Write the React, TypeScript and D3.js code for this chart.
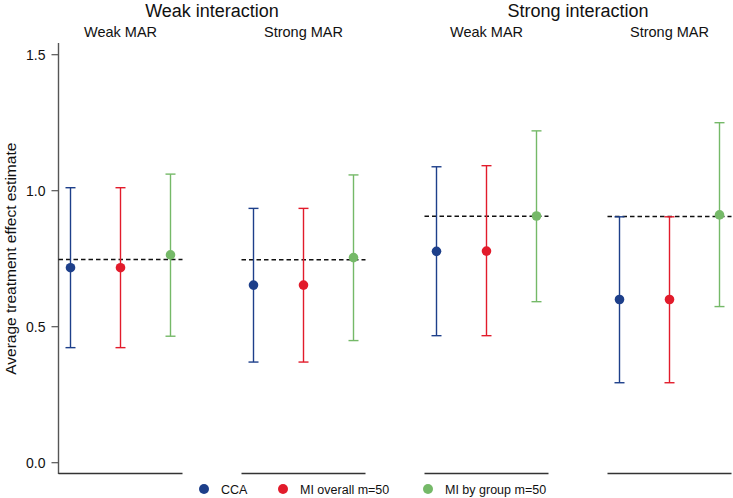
import React from 'react';
import * as d3 from 'd3';

// Data
const interactions = ['Weak interaction', 'Strong interaction'];
const marLabels = ['Weak MAR', 'Strong MAR'];
const methods = ['CCA', 'MI overall m=50', 'MI by group m=50'];
const methodColors = ['#1d3f8a', '#e21b2b', '#75b968'];

// panel order: WI/WMAR, WI/SMAR, SI/WMAR, SI/SMAR
const trueValues = [0.747, 0.746, 0.906, 0.905];
const estimates = [
  [0.717, 0.717, 0.764],
  [0.653, 0.653, 0.754],
  [0.777, 0.778, 0.907],
  [0.6, 0.6, 0.911],
];
const lowerCI = [
  [0.423, 0.423, 0.465],
  [0.37, 0.37, 0.449],
  [0.467, 0.467, 0.592],
  [0.294, 0.294, 0.574],
];
const upperCI = [
  [1.011, 1.011, 1.061],
  [0.935, 0.935, 1.058],
  [1.088, 1.092, 1.22],
  [0.904, 0.904, 1.25],
];
const yTicks = [0, 0.5, 1, 1.5];

const W = 733;
const H = 498;
const font = 'Liberation Sans, Arial, Helvetica, sans-serif';

const App = () => {
  const y = d3.scaleLinear().domain([0, 1.5]).range([462.7, 54.7]);
  const axisX = 58.5;
  const panelW = 124;
  const panelStep = 183;
  const bottomY = 473.5;

  const panels = trueValues.map((tv, i) => {
    const left = axisX + i * panelStep;
    const x = d3.scalePoint<string>().domain(methods).range([left, left + panelW]).padding(0.24);
    return { i, left, x, tv };
  });

  // legend dot positions
  const legendX = [204, 283, 428];

  return (
    <svg
      width={W}
      height={H}
      style={{ position: 'absolute', left: 0, top: 0, background: '#fff' }}
      fontFamily={font}
    >
      {/* group titles */}
      {interactions.map((t, k) => {
        const cx = axisX + k * 2 * panelStep + (panelStep + panelW) / 2;
        return (
          <text key={t} x={cx} y={17} textAnchor="middle" fontSize={18} fill="#111">
            {t}
          </text>
        );
      })}

      {/* y axis */}
      <line x1={axisX} x2={axisX} y1={43} y2={474} stroke="#555" strokeWidth={1.4} />
      {yTicks.map((t) => (
        <g key={t}>
          <line x1={axisX - 7} x2={axisX} y1={y(t)} y2={y(t)} stroke="#555" strokeWidth={1.2} />
          <text x={axisX - 13} y={y(t) + 5} textAnchor="end" fontSize={14} fill="#111">
            {d3.format('.1f')(t)}
          </text>
        </g>
      ))}
      <text
        transform={`translate(16, ${(y(0) + y(1.5)) / 2}) rotate(-90)`}
        textAnchor="middle"
        fontSize={15.5}
        fill="#111"
      >
        Average treatment effect estimate
      </text>

      {panels.map(({ i, left, x, tv }) => (
        <g key={i}>
          <text x={left + panelW / 2} y={37} textAnchor="middle" fontSize={14.5} fill="#111">
            {marLabels[i % 2]}
          </text>
          <line x1={left} x2={left + panelW} y1={bottomY} y2={bottomY} stroke="#333" strokeWidth={1.3} />
          <line
            x1={left}
            x2={left + panelW}
            y1={y(tv)}
            y2={y(tv)}
            stroke="#111"
            strokeWidth={1.5}
            strokeDasharray="4.5 3"
          />
          {methods.map((m, j) => {
            const cx = x(m) as number;
            const c = methodColors[j];
            return (
              <g key={m}>
                <line x1={cx} x2={cx} y1={y(lowerCI[i][j])} y2={y(upperCI[i][j])} stroke={c} strokeWidth={1.4} />
                <line x1={cx - 5} x2={cx + 5} y1={y(lowerCI[i][j])} y2={y(lowerCI[i][j])} stroke={c} strokeWidth={1.4} />
                <line x1={cx - 5} x2={cx + 5} y1={y(upperCI[i][j])} y2={y(upperCI[i][j])} stroke={c} strokeWidth={1.4} />
                <circle cx={cx} cy={y(estimates[i][j])} r={4.8} fill={c} />
              </g>
            );
          })}
        </g>
      ))}

      {/* legend */}
      {methods.map((m, j) => (
        <g key={m}>
          <circle cx={legendX[j]} cy={489} r={5} fill={methodColors[j]} />
          <text x={legendX[j] + 17} y={493.5} fontSize={12.5} fill="#111">
            {m}
          </text>
        </g>
      ))}
    </svg>
  );
};

export default App;
